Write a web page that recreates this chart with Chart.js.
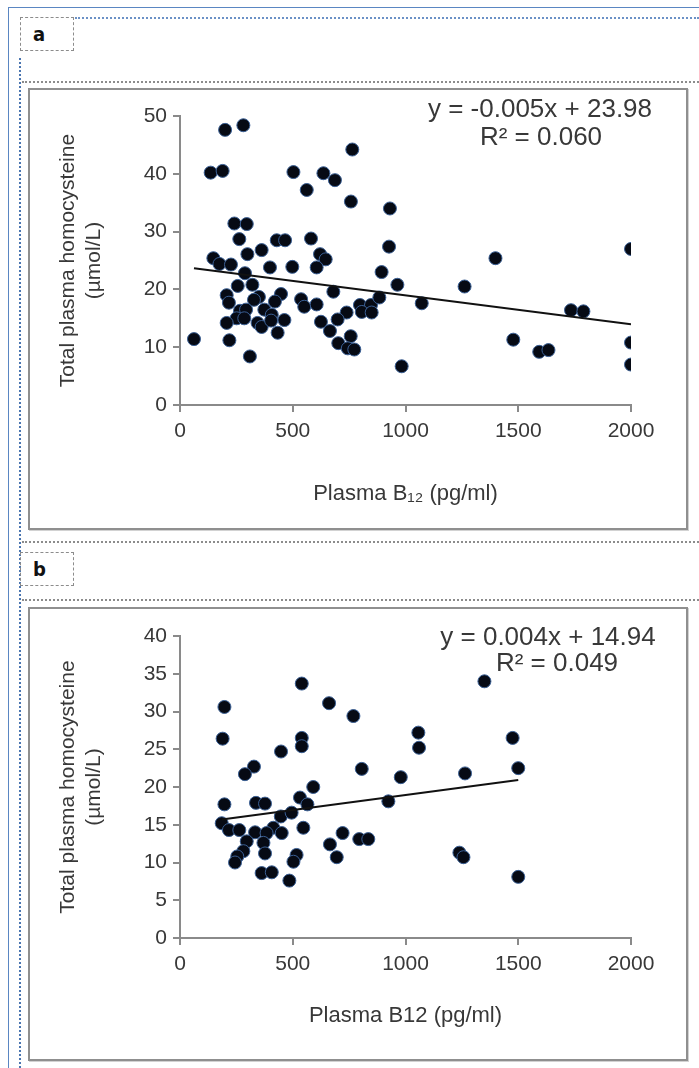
<!DOCTYPE html>
<html>
<head>
<meta charset="utf-8">
<script src="https://cdn.jsdelivr.net/npm/chart.js@4.4.1/dist/chart.umd.min.js"></script>
<style>
    html, body { margin: 0; padding: 0; background: #fff; }
    body { width: 699px; height: 1068px; position: relative; overflow: hidden; font-family: "Liberation Sans", Arial, sans-serif; }
    .frameTop { position: absolute; left: 8px; top: 7px; right: 0; border-top: 1px solid #5a86c2; }
    .frameLeft { position: absolute; left: 8px; top: 7px; bottom: 0; border-left: 1px solid #5a86c2; }
    .blueDotsV { position: absolute; left: 19px; top: 58px; bottom: 0; border-left: 2px dotted #4a75b0; }
    .blueDotsH { position: absolute; left: 75px; top: 17px; right: 0; border-top: 2px dotted #6b91c6; }
    .greyDots { position: absolute; left: 22px; right: 0; border-top: 2px dotted #8c8c8c; }
    .tag { position: absolute; left: 20px; width: 54px; height: 34px; border: 1.5px dashed #8c8c8c; box-sizing: border-box;
           font: bold 20px "Liberation Sans Narrow", "DejaVu Sans Condensed", sans-serif; color: #111; line-height: 32px; padding-left: 12px; }
    .panel { position: absolute; left: 28px; width: 656px; border: 2px solid #8f8f8f; box-shadow: 1px 1px 0 #d2d2d2; }
    .panel canvas { display: block; }
</style>
</head>
<body>
<div class="frameTop"></div>
<div class="frameLeft"></div>
<div class="blueDotsV"></div>
<div class="blueDotsH"></div>

<div class="tag" style="top:17px;">a</div>
<div class="greyDots" style="top:81px;"></div>
<div class="panel" style="top:88px; height:438px;"><canvas id="chartA" width="656" height="438"></canvas></div>

<div class="greyDots" style="top:541px;"></div>
<div class="tag" style="top:552px;">b</div>
<div class="greyDots" style="top:599px;"></div>
<div class="panel" style="top:607px; height:450px;"><canvas id="chartB" width="656" height="450"></canvas></div>

<script>
// panel a: plasma B12 (pg/ml) vs total homocysteine (umol/L)
const b12A = [200, 281, 136, 189, 503, 241, 296, 263, 429, 466, 362, 299, 148, 175, 226, 399, 498, 288, 321, 256,
    207, 217, 350, 328, 448, 421, 266, 293, 374, 407, 251, 285, 207, 344, 362, 404, 463, 433, 62, 219, 310,
    764, 636, 687, 562, 758, 931, 581, 927, 621, 646, 606, 894, 964, 680, 537, 551, 606, 798, 847, 884, 806,
    850, 1072, 739, 699, 625, 665, 757, 702, 744, 773, 983,
    2000, 1399, 1262, 1734, 1789, 1478, 1593, 1634, 2000, 2000];
const hcyA = [47.6, 48.4, 40.2, 40.5, 40.3, 31.4, 31.3, 28.7, 28.5, 28.5, 26.8, 26.1, 25.4, 24.4, 24.3, 23.8, 23.9, 22.8, 20.8, 20.6,
    19.0, 17.7, 18.7, 18.2, 19.2, 17.9, 16.3, 16.5, 16.5, 15.6, 15.0, 15.0, 14.2, 14.2, 13.5, 14.6, 14.7, 12.5, 11.4, 11.2, 8.4,
    44.2, 40.1, 38.9, 37.2, 35.2, 34.0, 28.8, 27.4, 26.1, 25.2, 23.8, 23.0, 20.8, 19.6, 18.3, 17.0, 17.4, 17.3, 17.3, 18.6, 16.1,
    16.0, 17.6, 16.0, 14.8, 14.4, 12.8, 11.9, 10.7, 9.8, 9.6, 6.7,
    27.0, 25.4, 20.5, 16.4, 16.2, 11.3, 9.2, 9.5, 10.8, 7.0];
const trendAX = [62, 2000];
const trendAY = [23.67, 13.98];
const yTicksA = [0, 10, 20, 30, 40, 50];

// panel b
const b12B = [197, 189, 540, 540, 540, 448, 328, 288, 661, 769,
    1057, 1060, 1350, 1475, 1500, 1264, 979, 806, 591, 197,
    337, 377, 532, 565, 924, 185, 217, 263, 333, 414,
    451, 447, 495, 547, 384, 296, 281, 254, 244, 370,
    377, 362, 407, 485, 517, 503, 665, 721, 695, 795,
    835, 1239, 1257, 1500];
const hcyB = [30.6, 26.4, 33.7, 26.5, 25.4, 24.7, 22.7, 21.7, 31.1, 29.4,
    27.2, 25.2, 34.0, 26.5, 22.5, 21.8, 21.3, 22.4, 20.0, 17.7,
    17.9, 17.8, 18.6, 17.7, 18.1, 15.2, 14.3, 14.3, 14.0, 14.6,
    13.9, 16.1, 16.6, 14.6, 13.9, 12.8, 11.5, 10.8, 10.0, 12.6,
    11.2, 8.6, 8.7, 7.6, 11.0, 10.1, 12.4, 13.9, 10.7, 13.1,
    13.1, 11.3, 10.7, 8.1];
const trendBX = [185, 1500];
const trendBY = [15.68, 20.94];
const yTicksB = [0, 5, 10, 15, 20, 25, 30, 35, 40];

const xTicks = [0, 500, 1000, 1500, 2000];
const yTitle = ["Total plasma homocysteine", "(\u00b5mol/L)"];

const textColor = "#383838";
const axisColor = "#8a8a8a";

// draws the trendline equation text
const equationLabel = {
    id: "equationLabel",
    afterDatasetsDraw(chart, args, opts) {
        if (!opts.lines) return;
        const ctx = chart.ctx;
        ctx.save();
        ctx.font = opts.font;
        ctx.fillStyle = opts.color;
        ctx.textAlign = "center";
        ctx.textBaseline = "middle";
        opts.lines.forEach((line) => ctx.fillText(line.text, line.x, line.y));
        ctx.restore();
    },
};

function toPoints(xs, ys) {
    return xs.map((x, i) => ({ x: x, y: ys[i] }));
}

function createPanel(id, cfg) {
    const ctx = document.getElementById(id).getContext("2d");
    return new Chart(ctx, {
        type: "scatter",
        data: {
            datasets: [
                {
                    data: toPoints(cfg.trendX, cfg.trendY),
                    showLine: true,
                    borderColor: "#111",
                    borderWidth: 2,
                    pointRadius: 0,
                    order: 0,
                },
                {
                    data: toPoints(cfg.xs, cfg.ys),
                    pointRadius: 6.5,
                    pointBackgroundColor: "#060a14",
                    pointBorderColor: "#3a5f94",
                    pointBorderWidth: 1,
                    order: 1,
                },
            ],
        },
        options: {
            responsive: false,
            animation: false,
            devicePixelRatio: 1,
            layout: { padding: { left: 0, top: cfg.padTop, right: 55, bottom: 0 } },
            plugins: {
                legend: { display: false },
                tooltip: { enabled: false },
                equationLabel: { lines: cfg.equation, font: "26px 'Liberation Sans', Arial, sans-serif", color: textColor },
            },
            scales: {
                x: {
                    type: "linear",
                    min: xTicks[0],
                    max: xTicks[xTicks.length - 1],
                    afterBuildTicks: (scale) => { scale.ticks = xTicks.map((v) => ({ value: v })); },
                    afterFit: (scale) => { scale.height = cfg.xHeight; },
                    grid: { drawOnChartArea: false, drawTicks: true, tickLength: 7, color: axisColor, lineWidth: 2 },
                    border: { display: true, color: axisColor, width: 2 },
                    ticks: {
                        color: textColor,
                        font: { family: "'Liberation Sans', Arial", size: 21 },
                        padding: 7,
                        maxRotation: 0,
                        callback: (v) => String(v),
                    },
                    title: {
                        display: true,
                        text: cfg.xTitle,
                        color: textColor,
                        font: { family: "'Liberation Sans', Arial", size: 22 },
                        padding: { top: 0, bottom: cfg.xTitlePad },
                    },
                },
                y: {
                    type: "linear",
                    min: cfg.yTicks[0],
                    max: cfg.yTicks[cfg.yTicks.length - 1],
                    afterBuildTicks: (scale) => { scale.ticks = cfg.yTicks.map((v) => ({ value: v })); },
                    afterFit: (scale) => { scale.width = 150; },
                    grid: { drawOnChartArea: false, drawTicks: true, tickLength: 7, color: axisColor, lineWidth: 2 },
                    border: { display: true, color: axisColor, width: 2 },
                    ticks: {
                        color: textColor,
                        font: { family: "'Liberation Sans', Arial", size: 21 },
                        padding: 6,
                        callback: (v) => String(v),
                    },
                    title: {
                        display: true,
                        text: yTitle,
                        color: textColor,
                        font: { family: "'Liberation Sans', Arial", size: 21 },
                        padding: { top: 26, bottom: 0 },
                    },
                },
            },
        },
        plugins: [equationLabel],
    });
}

createPanel("chartA", {
    xs: b12A,
    ys: hcyA,
    trendX: trendAX,
    trendY: trendAY,
    yTicks: yTicksA,
    padTop: 26,
    xHeight: 123,
    xTitle: "Plasma B\u2081\u2082 (pg/ml)",
    xTitlePad: 21,
    equation: [
        { text: "y = -0.005x + 23.98", x: 510, y: 20 },
        { text: "R\u00b2 = 0.060", x: 511, y: 48 },
    ],
});

createPanel("chartB", {
    xs: b12B,
    ys: hcyB,
    trendX: trendBX,
    trendY: trendBY,
    yTicks: yTicksB,
    padTop: 27,
    xHeight: 121,
    xTitle: "Plasma B12 (pg/ml)",
    xTitlePad: 30,
    equation: [
        { text: "y = 0.004x + 14.94", x: 518, y: 29 },
        { text: "R\u00b2 = 0.049", x: 527, y: 55 },
    ],
});
</script>
</body>
</html>
